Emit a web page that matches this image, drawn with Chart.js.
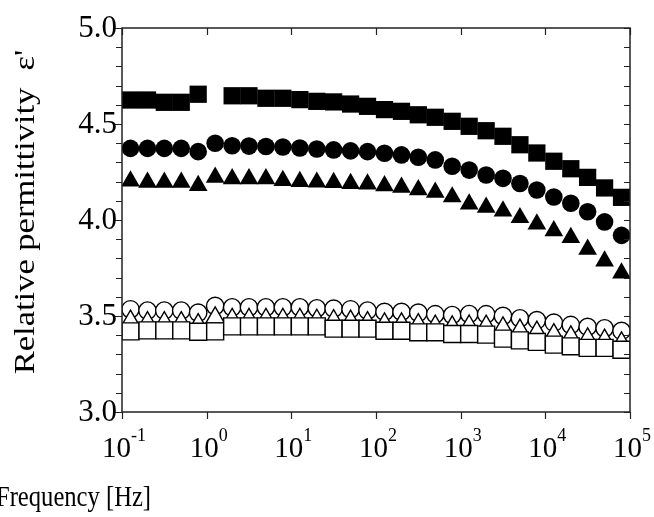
<!DOCTYPE html>
<html>
<head>
<meta charset="utf-8">
<script src="https://cdn.jsdelivr.net/npm/chart.js@4"></script>
<style>
  body { margin: 0; background: #fff; }
  #wrap { width: 654px; height: 517px; position: relative; }
</style>
</head>
<body>
<div id="wrap"><canvas id="chart"></canvas></div>
<script>
// frequencies [Hz], 5 points per decade
const freqs = [0.126, 0.2, 0.316, 0.501, 0.794, 1.26, 2.0, 3.16, 5.01, 7.94,
  12.6, 20, 31.6, 50.1, 79.4, 126, 200, 316, 501, 794,
  1260, 2000, 3160, 5010, 7940, 12600, 20000, 31600, 50100, 79400];

const filledSquare = [4.625, 4.625, 4.613, 4.613, 4.655, null, 4.647, 4.647, 4.634, 4.634,
  4.627, 4.618, 4.615, 4.604, 4.592, 4.575, 4.566, 4.548, 4.535, 4.514,
  4.488, 4.465, 4.436, 4.392, 4.349, 4.306, 4.267, 4.222, 4.167, 4.118];
const filledCircle = [4.373, 4.373, 4.373, 4.373, 4.356, 4.400, 4.387, 4.385, 4.383, 4.380,
  4.375, 4.370, 4.365, 4.360, 4.356, 4.348, 4.339, 4.327, 4.313, 4.280,
  4.260, 4.234, 4.217, 4.190, 4.156, 4.120, 4.087, 4.043, 3.990, 3.920];
const filledTriangle = [4.203, 4.196, 4.196, 4.196, 4.179, 4.222, 4.214, 4.214, 4.214, 4.205,
  4.200, 4.197, 4.195, 4.190, 4.187, 4.178, 4.170, 4.157, 4.144, 4.120,
  4.083, 4.066, 4.047, 4.012, 3.979, 3.944, 3.908, 3.847, 3.786, 3.724];
const openCircle = [3.535, 3.528, 3.528, 3.528, 3.517, 3.552, 3.545, 3.545, 3.545, 3.545,
  3.545, 3.540, 3.538, 3.535, 3.528, 3.521, 3.521, 3.517, 3.509, 3.505,
  3.510, 3.509, 3.500, 3.488, 3.478, 3.465, 3.453, 3.443, 3.436, 3.422];
const openTriangle = [3.475, 3.468, 3.468, 3.468, 3.457, 3.492, 3.485, 3.485, 3.485, 3.485,
  3.485, 3.480, 3.478, 3.475, 3.468, 3.461, 3.461, 3.457, 3.449, 3.445,
  3.450, 3.449, 3.440, 3.428, 3.418, 3.405, 3.393, 3.383, 3.376, 3.362];
const openSquare = [3.420, 3.425, 3.425, 3.425, 3.418, 3.420, 3.446, 3.446, 3.446, 3.446,
  3.446, 3.446, 3.434, 3.434, 3.434, 3.423, 3.423, 3.415, 3.415, 3.406,
  3.406, 3.403, 3.382, 3.373, 3.365, 3.351, 3.342, 3.334, 3.334, 3.324];

const yMajor = [3.0, 3.5, 4.0, 4.5, 5.0];
const xMajor = [-1, 0, 1, 2, 3, 4, 5]; // exponents of 10

const FONT = "'Liberation Serif', 'Times New Roman', serif";

function pts(vals) {
  return freqs.map((f, i) => ({ x: f, y: vals[i] }));
}
function series(vals, style, radius, filled) {
  return {
    data: pts(vals),
    pointStyle: style,
    pointRadius: radius,
    pointHoverRadius: radius,
    pointBackgroundColor: filled ? "#000" : "#fff",
    pointBorderColor: "#000",
    pointBorderWidth: filled ? 0 : 1.4,
    showLine: false,
  };
}

// frame, ticks and labels drawn by hand to get inward/outward ticks
const axesPlugin = {
  id: "axesPlugin",
  afterDraw(chart) {
    const ctx = chart.ctx;
    const a = chart.chartArea;
    const xs = chart.scales.x, ys = chart.scales.y;
    ctx.save();
    ctx.strokeStyle = "#222";
    ctx.lineWidth = 1.5;
    ctx.strokeRect(a.left, a.top, a.right - a.left, a.bottom - a.top);

    ctx.lineWidth = 1.2;
    ctx.beginPath();
    for (let i = 0; i <= 20; i++) {
      const v = 3 + i * 0.1;
      const y = Math.round(ys.getPixelForValue(v)) + 0.5;
      const major = i % 5 === 0;
      ctx.moveTo(a.left, y);
      ctx.lineTo(a.left - (major ? 9 : 6), y);
      ctx.moveTo(a.right, y);
      ctx.lineTo(a.right - 6, y);
    }
    xMajor.forEach(e => {
      const x = Math.round(xs.getPixelForValue(Math.pow(10, e))) + 0.5;
      ctx.moveTo(x, a.bottom);
      ctx.lineTo(x, a.bottom + 7);
      ctx.moveTo(x, a.top);
      ctx.lineTo(x, a.top + 7);
    });
    ctx.stroke();

    ctx.fillStyle = "#000";
    ctx.font = "31px " + FONT;
    ctx.textAlign = "right";
    ctx.textBaseline = "middle";
    yMajor.forEach(v => {
      ctx.fillText(v.toFixed(1), a.left - 5, ys.getPixelForValue(v) + 1);
    });

    ctx.textBaseline = "alphabetic";
    xMajor.forEach(e => {
      const x = xs.getPixelForValue(Math.pow(10, e));
      const exp = e < 0 ? "-" + (-e) : String(e);
      ctx.font = "29px " + FONT;
      const wb = ctx.measureText("10").width;
      ctx.font = "18px " + FONT;
      const we = ctx.measureText(exp).width;
      const x0 = x - (wb + we) / 2 + 2;
      ctx.textAlign = "left";
      ctx.font = "29px " + FONT;
      ctx.fillText("10", x0, a.bottom + 45);
      ctx.font = "18px " + FONT;
      ctx.fillText(exp, x0 + wb, a.bottom + 29);
    });

    // x title, slightly condensed like the source image
    ctx.save();
    ctx.translate(-4, 506);
    ctx.scale(0.82, 1);
    ctx.font = "30px " + FONT;
    ctx.textAlign = "left";
    ctx.fillText("Frequency [Hz]", 0, 0);
    ctx.restore();

    // y title, rotated and stretched along its length
    ctx.translate(34, 212);
    ctx.rotate(-Math.PI / 2);
    ctx.scale(1.15, 1);
    ctx.textAlign = "center";
    ctx.font = "30px " + FONT;
    ctx.fillText("Relative permittivity  \u03b5'", 0, 0);
    ctx.restore();
  }
};

new Chart(document.getElementById("chart"), {
  type: "scatter",
  data: {
    datasets: [
      series(openSquare, "rect", 12, false),
      series(openTriangle, "triangle", 10.6, false),
      series(openCircle, "circle", 8.7, false),
      series(filledSquare, "rect", 12.2, true),
      series(filledCircle, "circle", 8.8, true),
      series(filledTriangle, "triangle", 10.8, true),
    ],
  },
  options: {
    responsive: true,
    maintainAspectRatio: false,
    animation: false,
    layout: { padding: { left: 122, top: 28, right: 24, bottom: 105 } },
    scales: {
      x: { type: "logarithmic", min: 0.1, max: 100000, display: false },
      y: { type: "linear", min: 3.0, max: 5.0, display: false },
    },
    plugins: { legend: { display: false }, tooltip: { enabled: false } },
  },
  plugins: [axesPlugin],
});
</script>
</body>
</html>
